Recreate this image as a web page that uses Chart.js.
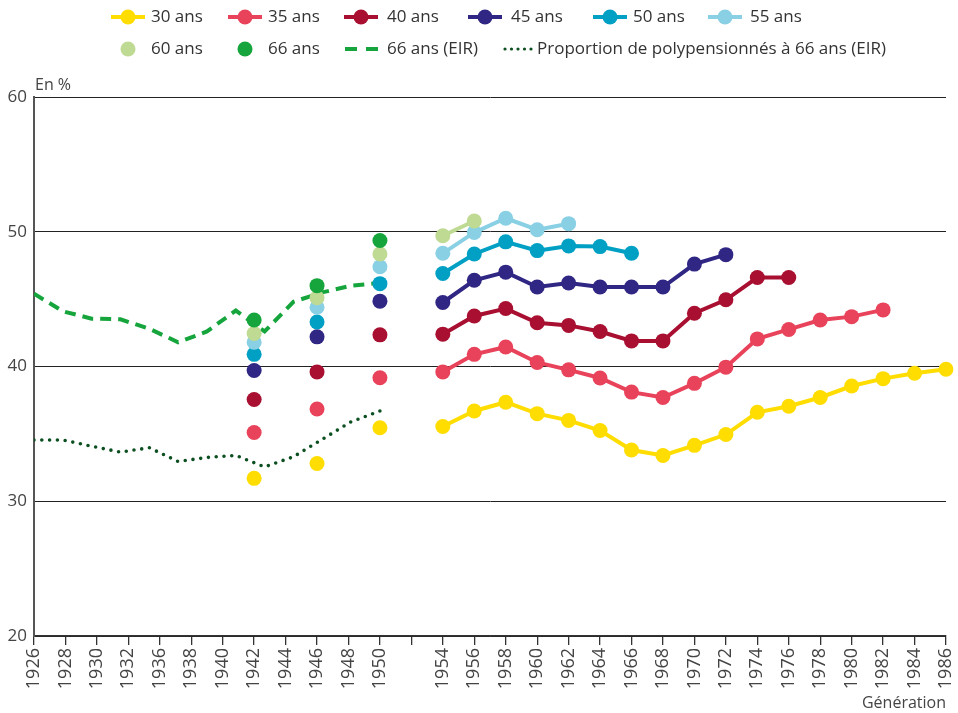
<!DOCTYPE html>
<html lang="fr">
<head>
<meta charset="utf-8">
<script src="https://cdn.jsdelivr.net/npm/chart.js@4.4.1/dist/chart.umd.min.js"></script>
<style>
  html, body { margin: 0; padding: 0; background: #fff; }
  #wrap { position: relative; width: 958px; height: 713px; font-family: "Open Sans", sans-serif; color: #333; }
  #chart { position: absolute; left: 0; top: 0; }
  .lg { position: absolute; font-size: 17px; line-height: 20px; white-space: nowrap; color: #333; }
  .mk { position: absolute; }
  #unit { position: absolute; left: 35px; top: 73px; font-size: 16px; color: #444; }
</style>
</head>
<body>
<div id="wrap">
  <canvas id="chart" width="958" height="713"></canvas>
  <div id="legend"></div>
  <div id="unit">En %</div>
</div>
<script>
// ---- Data ----
const generations = ['1926','1928','1930','1932','1936','1938','1940','1942','1944','1946','1948','1950','',
  '1954','1956','1958','1960','1962','1964','1966','1968','1970','1972','1974','1976','1978','1980','1982','1984','1986'];
const N = null;
//              1926..1940 (7)       1942   1944 1946  1948 1950   ''  1954  1956  1958  1960  1962  1964  1966  1968  1970  1972  1974  1976  1978  1980  1982  1984  1986
const age30 = [N,N,N,N,N,N,N,        31.7,  N,   32.8, N,   35.45, N,  35.55,36.7, 37.35,36.5, 36.0, 35.25,33.8, 33.4, 34.15,34.95,36.6, 37.05,37.7, 38.55,39.1, 39.5, 39.8];
const age35 = [N,N,N,N,N,N,N,        35.1,  N,   36.85,N,   39.17, N,  39.6, 40.9, 41.45,40.3, 39.75,39.15,38.1, 37.7, 38.75,39.95,42.05,42.75,43.45,43.7, 44.2, N,    N];
const age40 = [N,N,N,N,N,N,N,        37.55, N,   39.6, N,   42.35, N,  42.4, 43.75,44.3, 43.25,43.05,42.6, 41.9, 41.9, 43.95,44.95,46.6, 46.6, N,    N,    N,    N,    N];
const age45 = [N,N,N,N,N,N,N,        39.7,  N,   42.2, N,   44.85, N,  44.75,46.4, 47.0, 45.9, 46.2, 45.9, 45.9, 45.9, 47.6, 48.3, N,    N,    N,    N,    N,    N,    N];
const age50 = [N,N,N,N,N,N,N,        40.9,  N,   43.3, N,   46.15, N,  46.9, 48.35,49.25,48.6, 48.95,48.9, 48.4, N,    N,    N,    N,    N,    N,    N,    N,    N,    N];
const age55 = [N,N,N,N,N,N,N,        41.8,  N,   44.4, N,   47.4,  N,  48.4, 49.95,51.0, 50.15,50.6, N,    N,    N,    N,    N,    N,    N,    N,    N,    N,    N,    N];
const age60 = [N,N,N,N,N,N,N,        42.45, N,   45.1, N,   48.35, N,  49.7, 50.8, N,    N,    N,    N,    N,    N,    N,    N,    N,    N,    N,    N,    N,    N,    N];
const age66 = [N,N,N,N,N,N,N,        43.45, N,   46.0, N,   49.35, N,  N,    N,    N,    N,    N,    N,    N,    N,    N,    N,    N,    N,    N,    N,    N,    N,    N];

// EIR series (plotted against birth year, 1926-1950)
const eirYears = [1926,1928,1930,1932,1934,1936,1938,1940,1942,1944,1946,1948,1950];
const eir66    = [45.4, 44.1, 43.55,43.5, 42.8, 41.8, 42.6, 44.15,42.6, 44.8, 45.5, 46.0, 46.2];
const polyShare= [34.55,34.55,34.08,33.65,33.97,32.95,33.25,33.4, 32.55,33.3, 34.6, 35.9, 36.7];

const yTicks = [20, 30, 40, 50, 60];

// ---- Styles ----
const colors = {
  a30: '#FFDD00', a35: '#E8435A', a40: '#A80F30', a45: '#302683', a50: '#00A0C4',
  a55: '#89D0E4', a60: '#BFDA92', a66: '#16A53C', eir: '#16A53C', poly: '#0C4F20'
};

const lineYearStart = eirYears[0], lineYearEnd = eirYears[eirYears.length - 1];
const lastIdx = generations.indexOf(String(lineYearEnd));
const x2Max = lineYearStart + (lineYearEnd - lineYearStart) * (generations.length - 1) / lastIdx;

function ageSet(label, data, color, order) {
  return {
    label, data, order,
    borderColor: color, backgroundColor: color,
    borderWidth: 4, pointRadius: 7.5, pointHoverRadius: 7.5,
    pointBorderWidth: 0, pointBackgroundColor: color,
    spanGaps: false, tension: 0, xAxisID: 'x', yAxisID: 'y'
  };
}
const pairs = (xs, ys) => xs.map((x, i) => ({ x, y: ys[i] }));

const datasets = [
  ageSet('66 ans', age66, colors.a66, 1),
  ageSet('60 ans', age60, colors.a60, 2),
  ageSet('55 ans', age55, colors.a55, 3),
  ageSet('50 ans', age50, colors.a50, 4),
  ageSet('45 ans', age45, colors.a45, 5),
  ageSet('40 ans', age40, colors.a40, 6),
  ageSet('35 ans', age35, colors.a35, 7),
  ageSet('30 ans', age30, colors.a30, 8),
  {
    label: '66 ans (EIR)', data: pairs(eirYears, eir66), order: 9,
    borderColor: colors.eir, borderWidth: 4, borderDash: [11, 7], borderCapStyle: 'butt',
    pointRadius: 0, tension: 0, xAxisID: 'x2', yAxisID: 'y'
  },
  {
    label: 'Proportion de polypensionnés à 66 ans (EIR)', data: pairs(eirYears, polyShare), order: 10,
    borderColor: colors.poly, borderWidth: 3.6, borderDash: [0, 7.8], borderCapStyle: 'round',
    pointRadius: 0, tension: 0, xAxisID: 'x2', yAxisID: 'y'
  }
];

const FONT = '"Open Sans", sans-serif';

new Chart(document.getElementById('chart'), {
  type: 'line',
  data: { labels: generations, datasets },
  options: {
    responsive: false, animation: false, devicePixelRatio: 1,
    layout: { padding: { top: 97, right: 12, left: 0, bottom: 0 } },
    plugins: { legend: { display: false }, tooltip: { enabled: false } },
    scales: {
      x: {
        type: 'category', offset: false,
        grid: { display: true, drawOnChartArea: false, drawTicks: true, tickLength: 9, color: '#333', lineWidth: 1.3 },
        border: { display: true, color: '#333', width: 1.5 },
        ticks: { minRotation: 90, maxRotation: 90, autoSkip: false, padding: 3, color: '#444', font: { family: FONT, size: 18 } },
        title: { display: true, text: 'Génération', align: 'end', color: '#444', font: { family: FONT, size: 16 }, padding: { top: 2, bottom: 0 } },
        afterFit: s => { s.height = 77; s.paddingLeft = 0; s.paddingRight = 0; }
      },
      x2: {
        type: 'linear', display: false, min: lineYearStart, max: x2Max
      },
      y: {
        min: yTicks[0], max: yTicks[yTicks.length - 1],
        afterBuildTicks: s => { s.ticks = yTicks.map(v => ({ value: v })); },
        grid: { color: '#222', lineWidth: 1, drawTicks: false },
        border: { display: true, color: '#555', width: 2 },
        ticks: { padding: 7, color: '#444', font: { family: FONT, size: 17 } },
        afterFit: s => { s.width = 34; }
      }
    }
  }
});

// ---- HTML legend (positions only) ----
const legendItems = [
  { label: '30 ans', color: colors.a30, kind: 'linedot', mx: 111, tx: 151, row: 0 },
  { label: '35 ans', color: colors.a35, kind: 'linedot', mx: 228, tx: 268, row: 0 },
  { label: '40 ans', color: colors.a40, kind: 'linedot', mx: 344, tx: 387, row: 0 },
  { label: '45 ans', color: colors.a45, kind: 'linedot', mx: 468, tx: 511, row: 0 },
  { label: '50 ans', color: colors.a50, kind: 'linedot', mx: 593, tx: 633, row: 0 },
  { label: '55 ans', color: colors.a55, kind: 'linedot', mx: 708, tx: 750, row: 0 },
  { label: '60 ans', color: colors.a60, kind: 'dot', mx: 119, tx: 151, row: 1 },
  { label: '66 ans', color: colors.a66, kind: 'dot', mx: 236, tx: 268, row: 1 },
  { label: '66 ans (EIR)', color: colors.eir, kind: 'dash', mx: 345, tx: 387, row: 1 },
  { label: 'Proportion de polypensionnés à 66 ans (EIR)', color: colors.poly, kind: 'dots', mx: 503, tx: 537, row: 1 }
];
const rowY = [17, 49];
const lg = document.getElementById('legend');
legendItems.forEach(it => {
  const cy = rowY[it.row];
  let svg;
  if (it.kind === 'linedot') {
    svg = `<svg class="mk" style="left:${it.mx}px;top:${cy-9}px" width="34" height="18"><line x1="0" y1="9" x2="34" y2="9" stroke="${it.color}" stroke-width="4"/><circle cx="17" cy="9" r="7.5" fill="${it.color}"/></svg>`;
  } else if (it.kind === 'dot') {
    svg = `<svg class="mk" style="left:${it.mx}px;top:${cy-9}px" width="18" height="18"><circle cx="9" cy="9" r="7.5" fill="${it.color}"/></svg>`;
  } else if (it.kind === 'dash') {
    svg = `<svg class="mk" style="left:${it.mx}px;top:${cy-9}px" width="34" height="18"><line x1="0" y1="9" x2="34" y2="9" stroke="${it.color}" stroke-width="4" stroke-dasharray="12 9"/></svg>`;
  } else {
    svg = `<svg class="mk" style="left:${it.mx}px;top:${cy-9}px" width="30" height="18"><line x1="2" y1="9" x2="30" y2="9" stroke="${it.color}" stroke-width="3.2" stroke-linecap="round" stroke-dasharray="0 6.5"/></svg>`;
  }
  lg.insertAdjacentHTML('beforeend', svg + `<div class="lg" style="left:${it.tx}px;top:${cy-11}px">${it.label}</div>`);
});
</script>
</body>
</html>
